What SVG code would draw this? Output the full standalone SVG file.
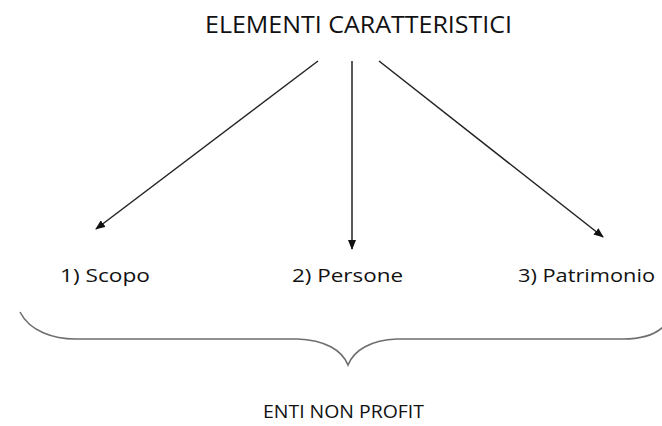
<svg xmlns="http://www.w3.org/2000/svg" width="662" height="426" viewBox="0 0 662 426">
  <style>
    .t { font-family: "Open Sans", "Liberation Sans", sans-serif; fill: #111; }
    .head { font-size: 24px; }
    .item { font-size: 19px; }
    .foot { font-size: 19px; }
    .edge { stroke: #222; stroke-width: 1.5; fill: none; marker-end: url(#arrow); }
    .brace { stroke: #6e6e6e; stroke-width: 1.6; fill: none; }
  </style>
  <defs>
    <marker id="arrow" viewBox="0 0 10 8" refX="9" refY="4" markerWidth="10" markerHeight="8" markerUnits="userSpaceOnUse" orient="auto">
      <path d="M0,0 L10,4 L0,8 Z" fill="#111"/>
    </marker>
  </defs>
  <rect width="662" height="426" fill="#fff"/>

  <g id="elementi">
    <text class="t head" x="205" y="33" textLength="307" lengthAdjust="spacingAndGlyphs">ELEMENTI CARATTERISTICI</text>
  </g>

  <g id="connectors">
    <line class="edge" x1="318" y1="61" x2="96" y2="229"/>
    <line class="edge" x1="352" y1="61" x2="352" y2="249"/>
    <line class="edge" x1="379" y1="61" x2="603" y2="237"/>
  </g>

  <g id="scopo">
    <text class="t item" x="60" y="282" textLength="90" lengthAdjust="spacingAndGlyphs">1) Scopo</text>
  </g>
  <g id="persone">
    <text class="t item" x="292" y="282" textLength="111" lengthAdjust="spacingAndGlyphs">2) Persone</text>
  </g>
  <g id="patrimonio">
    <text class="t item" x="518" y="282" textLength="137" lengthAdjust="spacingAndGlyphs">3) Patrimonio</text>
  </g>

  <!-- curly brace grouping the three items -->
  <path class="brace" d="M20,312 C30,332 55,339 75,339 L297,339 C325,340 342,350 348,365 C354,350 371,340 397,339 L623,339 C640,339 655,335 664,326"/>

  <g id="enti">
    <text class="t foot" x="263" y="418" textLength="161" lengthAdjust="spacingAndGlyphs">ENTI NON PROFIT</text>
  </g>
</svg>
